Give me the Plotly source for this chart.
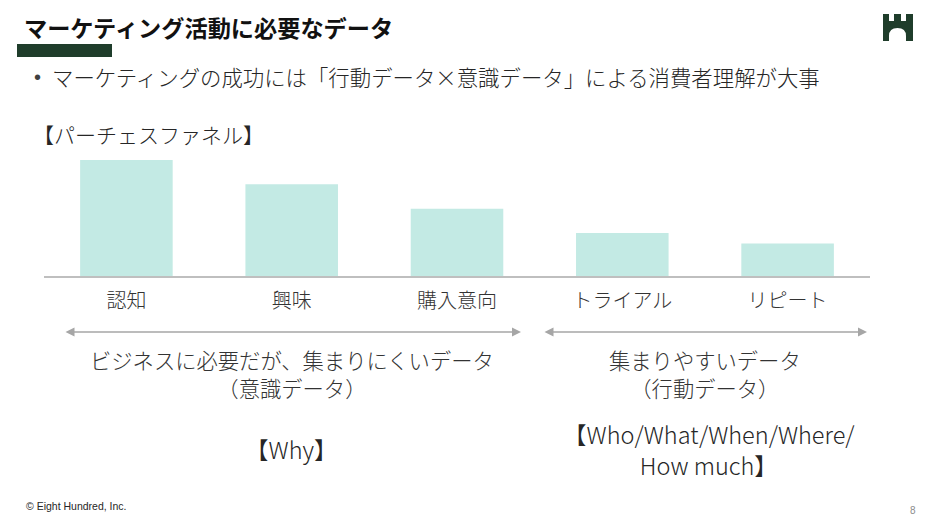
import plotly.graph_objects as go

W, H = 934, 525

stages = ["認知", "興味", "購入意向", "トライアル", "リピート"]
volumes = [100, 79, 58, 37, 28]

title_text = "マーケティング活動に必要なデータ"
bullet_text = "マーケティングの成功には「行動データ×意識データ」による消費者理解が大事"
funnel_label = "【パーチェスファネル】"
left_caption = ["ビジネスに必要だが、集まりにくいデータ", "（意識データ）"]
right_caption = ["集まりやすいデータ", "（行動データ）"]
left_tag = "【Why】"
right_tag = ["【Who/What/When/Where/", "How much】"]
footer_text = "© Eight Hundred, Inc."
page_no = "8"

JP = "Noto Sans CJK JP"
GREEN = "#1f3d2b"


def px(x):
    return x / W


def py(y):
    return 1 - y / H


fig = go.Figure()
fig.add_trace(go.Bar(
    x=stages, y=volumes,
    marker=dict(color="#c3eae4", line=dict(width=0)),
    width=0.56, hoverinfo="skip",
))

annotations = []


def txt(text, x, y, size, anchor="left", color="#262626", family=JP, weight=300):
    annotations.append(dict(
        text=text, x=px(x), y=py(y), xref="paper", yref="paper",
        xanchor=anchor, yanchor="middle", showarrow=False, align="center",
        font=dict(family=family, size=size, color=color, weight=weight),
    ))


txt(title_text, 22, 27, 23.2, color="#111111", weight=700)
txt("•", 32, 77, 20, color="#404040", family="Liberation Sans", weight=400)
txt(bullet_text, 50, 76, 21.4)
txt(funnel_label, 31, 134, 21)
txt("<br>".join(left_caption), 292, 373, 21.3, anchor="center", color="#333333")
txt("<br>".join(right_caption), 705, 373, 21.3, anchor="center", color="#333333")
txt(left_tag, 291, 449, 23.5, anchor="center", color="#262626")
txt("<br>".join(right_tag), 709, 449, 23.5, anchor="center", color="#262626")
txt(footer_text, 24, 506, 10.5, color="#262626", family="Liberation Sans", weight=400)
txt(page_no, 913, 510, 10, anchor="center", color="#8c8c8c", family="Liberation Sans", weight=400)

# double-headed arrows
for x0, x1 in [(64, 521), (543, 867)]:
    annotations.append(dict(
        x=px(x1), y=py(332), xref="paper", yref="paper",
        ax=x0 - x1, ay=0, axref="pixel", ayref="pixel",
        text="", showarrow=True, arrowhead=2, arrowside="end+start",
        arrowsize=1.2, arrowwidth=1.5, arrowcolor="#a6a6a6",
    ))

shapes = [
    dict(type="rect", xref="paper", yref="paper",
         x0=px(17), x1=px(112), y0=py(57), y1=py(44),
         fillcolor=GREEN, line=dict(width=0)),
]

pts = "M {},{} L {},{} L {},{} L {},{} L {},{} L {},{} L {},{} L {},{} L {},{} L {},{} L {},{} L {},{} L {},{} Q {},{} {},{} Q {},{} {},{} L {},{} L {},{} Z"
coords = [
    (883, 14), (889, 14), (889, 21), (894, 21), (894, 14), (901, 14), (901, 21),
    (906, 21), (906, 14), (913, 14), (913, 41), (906, 41), (906, 36),
    (906, 28), (897.5, 28), (889, 28), (889, 36), (889, 41), (883, 41),
]
flat = []
for (a, b) in coords:
    flat += [round(px(a), 5), round(py(b), 5)]
shapes.append(dict(type="path", xref="paper", yref="paper", path=pts.format(*flat),
                   fillcolor=GREEN, line=dict(width=0)))

fig.update_layout(
    width=W, height=H,
    margin=dict(l=0, r=0, t=0, b=0),
    paper_bgcolor="white", plot_bgcolor="white",
    showlegend=False,
    annotations=annotations,
    shapes=shapes,
    xaxis=dict(domain=[px(43.75), px(870.25)], showline=True, linecolor="#bfbfbf",
               linewidth=1.5, showgrid=False, zeroline=False, ticks="",
               tickfont=dict(family=JP, size=20, color="#333333", weight=300),
               ticklabelstandoff=6),
    yaxis=dict(domain=[py(276), py(150)], range=[0, 100 * 126 / 116],
               visible=False, showgrid=False, zeroline=False),
    bargap=0.44,
)

fig.write_html("out.html")
